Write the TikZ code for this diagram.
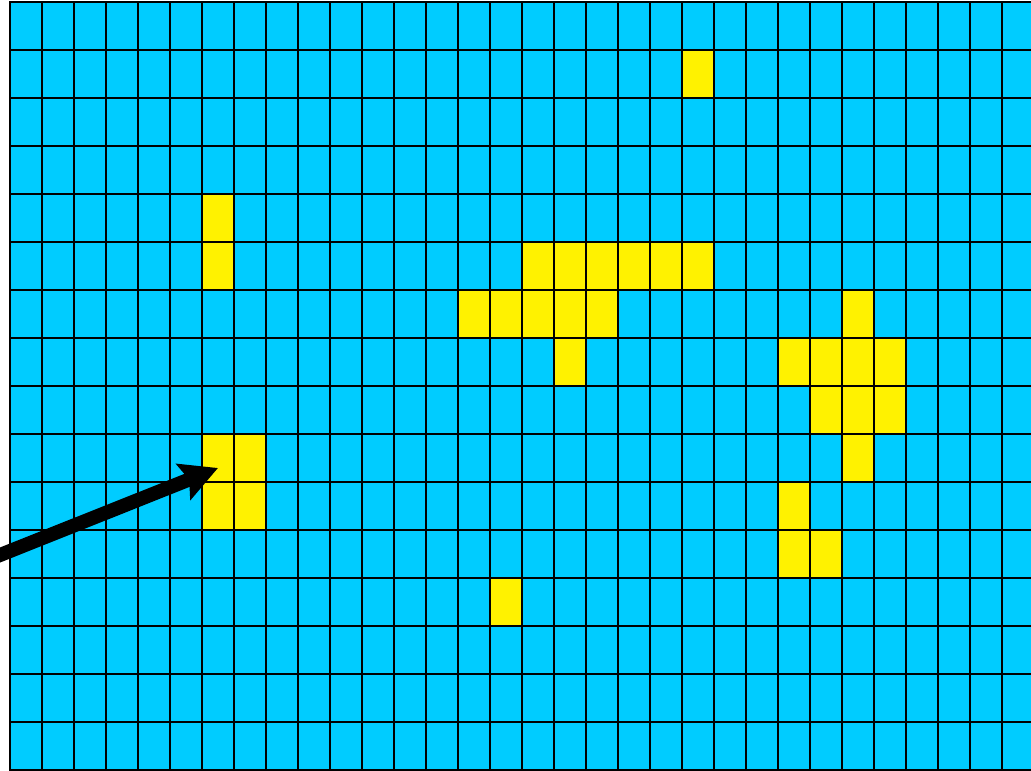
\documentclass[tikz,border=0pt]{standalone}
\usetikzlibrary{arrows.meta}
\definecolor{cellblue}{RGB}{0,204,255}
\definecolor{cellyellow}{RGB}{255,242,0}
\begin{document}
\begin{tikzpicture}[x=1pt,y=-1pt,
  gridline/.style={line width=2pt,black},
  hot/.style={fill=cellyellow},
  pointer/.style={line width=14pt,black,-{Stealth[length=37pt,width=38pt,inset=6pt]}}]
\useasboundingbox (0,0) rectangle (1031,771);
\clip (0,0) rectangle (1031,771);
\fill[cellblue] (10,2) rectangle (1040,770);
\foreach \c/\r in {21/1, 6/4, 6/5, 16/5, 17/5, 18/5, 19/5, 20/5, 21/5,
  14/6, 15/6, 16/6, 17/6, 18/6, 26/6, 17/7, 24/7, 25/7, 26/7, 27/7,
  25/8, 26/8, 27/8, 6/9, 7/9, 26/9, 6/10, 7/10, 24/10, 24/11, 25/11, 15/12}
  \fill[hot] ({10+32*\c},{2+48*\r}) rectangle ++(32,48);
\foreach \c in {0,...,32}
  \draw[gridline] ({10+32*\c},2) -- ({10+32*\c},770);
\foreach \r in {0,...,16}
  \draw[gridline] (9,{2+48*\r}) -- (1040,{2+48*\r});
\coordinate (tail) at (-20,563);
\coordinate (tip) at (218,468);
\draw[pointer] (tail) -- (tip);
\end{tikzpicture}
\end{document}
